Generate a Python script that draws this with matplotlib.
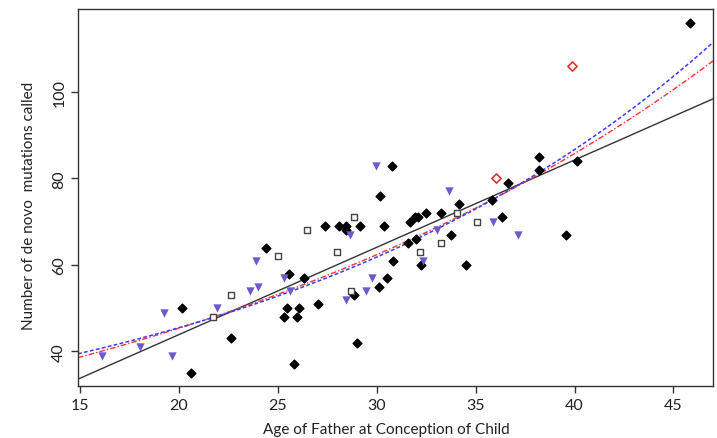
import numpy as np
import matplotlib
matplotlib.use("Agg")
import matplotlib.pyplot as plt

plt.rcParams['font.family'] = ['Lato', 'Open Sans', 'DejaVu Sans']

# ---- data (father's age, number of de novo mutations) ----
diamond_x = [20.17, 20.6, 22.65, 24.4, 25.3, 25.47, 25.56, 25.8, 25.95, 26.05,
             26.3, 27.04, 27.37, 28.1, 28.43, 28.43, 28.86, 29.02, 29.17, 30.1,
             30.15, 30.35, 30.5, 30.78, 30.82, 31.58, 31.67, 31.95, 32.1, 32.0,
             32.25, 32.5, 33.25, 33.74, 34.16, 34.5, 35.84, 36.33, 36.65, 38.22,
             38.22, 39.55, 40.12, 45.85]
diamond_y = [50, 35, 43, 64, 48, 50, 58, 37, 48, 50,
             57, 51, 69, 69, 69, 68, 53, 42, 69, 55,
             76, 69, 57, 83, 61, 65, 70, 71, 71, 66,
             60, 72, 72, 67, 74, 60, 75, 71, 79, 85,
             82, 67, 84, 116]

square_x = [21.72, 22.65, 25.0, 26.45, 28.0, 28.69, 28.86, 32.16, 33.23, 34.08, 35.07]
square_y = [48, 53, 62, 68, 63, 54, 71, 63, 65, 72, 70]

triangle_x = [16.1, 18.0, 19.25, 19.66, 21.9, 23.57, 23.97, 23.9, 25.3, 25.6,
              28.43, 28.63, 29.43, 29.77, 29.95, 32.34, 33.05, 33.67, 35.88, 37.15]
triangle_y = [39, 41, 49, 39, 50, 54, 55, 61, 57, 54,
              52, 67, 54, 57, 83, 61, 68, 77, 70, 67]

red_x = [36.05, 39.88]
red_y = [80, 106]

# fitted models
linear_intercept, linear_slope = 3.52, 2.019
maternal_const = 14.2
blue_amp, blue_rate = 13.51, 0.042
red_amp, red_rate = 24.0, 0.03184

x_ticks = [15, 20, 25, 30, 35, 40, 45]
y_ticks = [40, 60, 80, 100]
xlim = (14.89, 47.0)
ylim = (32.0, 119.2)

fig = plt.figure(figsize=(7.17, 4.39), dpi=100)
ax = fig.add_axes([78/717, (439-387)/439, (713-78)/717, (387-10)/439])

xs = np.linspace(xlim[0], xlim[1], 300)
ax.plot(xs, linear_intercept + linear_slope*xs, color='#333333', lw=1.0, zorder=2)
ax.plot(xs, red_amp*np.exp(red_rate*xs), color='#ff3030',
        lw=1.0, linestyle=(0, (4, 1.5, 1, 1.5)), zorder=2)
ax.plot(xs, maternal_const + blue_amp*np.exp(blue_rate*xs), color='#3a3aff',
        lw=1.1, linestyle=(0, (2.5, 1.5)), zorder=2)

ax.scatter(diamond_x, diamond_y, marker='D', s=20, color='black', zorder=3)
ax.scatter(triangle_x, triangle_y, marker='v', s=36, color='#6a5acd', zorder=3, linewidths=0)
ax.scatter(square_x, square_y, marker='s', s=22, facecolors='white',
           edgecolors='#444444', linewidths=1.0, zorder=4)
ax.scatter(red_x, red_y, marker='D', s=22, facecolors='white',
           edgecolors='#dd3333', linewidths=1.2, zorder=4)

ax.set_xlim(*xlim)
ax.set_ylim(*ylim)
ax.set_xticks(x_ticks)
ax.set_yticks(y_ticks)
ax.set_yticklabels([str(v) for v in y_ticks], rotation=90, va='center')
ax.tick_params(direction='out', length=5, width=1, colors='#333333',
               labelsize=11.5, labelcolor='#222222', pad=3.5)
for s in ax.spines.values():
    s.set_color('#333333')
    s.set_linewidth(1.0)

ax.set_xlabel('Age of Father at Conception of Child', fontsize=11, color='#222222')
ax.set_ylabel('Number of de novo  mutations called', fontsize=11, color='#222222')
ax.xaxis.set_label_coords(0.486, -0.095)
ax.yaxis.set_label_coords(-0.066, 0.48)

fig.savefig('out.png', dpi=100)
